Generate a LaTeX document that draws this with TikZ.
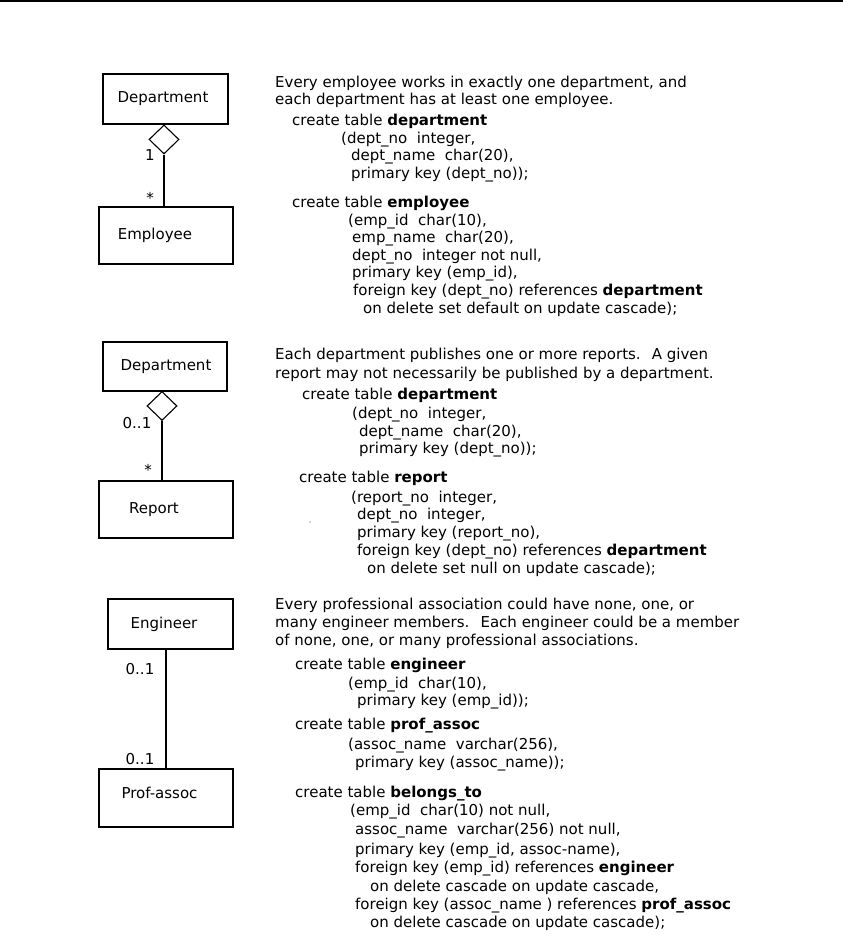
\documentclass[tikz,border=0pt]{standalone}
\usepackage{fontspec}
\setmainfont{DejaVu Sans}
\usetikzlibrary{shapes.geometric}
\tikzset{
  txt/.style={anchor=mid west, inner sep=0pt, font=\fontsize{15}{17}\selectfont},
  lbl/.style={inner sep=0pt, font=\fontsize{15}{17}\selectfont},
  ent/.style={draw, line width=1.2pt, inner sep=0pt},
  agg/.style={draw, diamond, line width=1.1pt, inner sep=0pt, minimum width=30pt, minimum height=29pt, anchor=north},
  conn/.style={line width=1.1pt}
}
\newcommand\tline[4]{\node[txt] (#1) at (#2,#3) {#4};}
\begin{document}
\begin{tikzpicture}[x=1pt,y=-1pt]
\useasboundingbox (0,0) rectangle (843,938);
\coordinate (tl) at (0,1);
\coordinate (tr) at (843,1);
\draw[line width=2pt] (tl) -- (tr);

% ---------- diagram 1 ----------
\node[ent, minimum width=125pt, minimum height=50pt] (dept1) at (165.5,99) {};
\node[lbl] (dept1t) at (163,98.5) {Department};
\node[agg] (d1) at (164,124.4) {};
\node[ent, minimum width=134pt, minimum height=57pt] (emp) at (166,235.5) {};
\node[lbl] (empt) at (155,235.5) {Employee};
\draw[conn] (d1.south) -- (d1.south |- emp.north);
\node[lbl] (m1a) at (150,155) {1};
\node[lbl] (m1b) at (150,198) {*};

% ---------- diagram 2 ----------
\node[ent, minimum width=124pt, minimum height=49pt] (dept2) at (165,366.5) {};
\node[lbl] (dept2t) at (166,367) {Department};
\node[agg] (d2) at (162,390.9) {};
\node[ent, minimum width=134pt, minimum height=57pt] (rep) at (166,509.5) {};
\node[lbl] (rept) at (154,510) {Report};
\draw[conn] (d2.south) -- (d2.south |- rep.north);
\node[lbl] (m2a) at (137,423) {0..1};
\node[lbl] (m2b) at (148,470) {*};

% ---------- diagram 3 ----------
\node[ent, minimum width=125pt, minimum height=50pt] (eng) at (170.5,624) {};
\node[lbl] (engt) at (164,624) {Engineer};
\node[ent, minimum width=134pt, minimum height=58pt] (pa) at (166,798) {};
\node[lbl] (pat) at (159.5,793) {Prof-assoc};
\draw[conn] (pa.north |- eng.south) -- (pa.north);
\node[lbl] (m3a) at (140,669) {0..1};
\node[lbl] (m3b) at (140,759) {0..1};

% ---------- text block 1 ----------
\tline{a1}{275}{85}{Every employee works in exactly one department, and}
\tline{a2}{275}{102}{each department has at least one employee.}
\tline{a3}{292}{123}{create table \textbf{department}}
\tline{a4}{341}{141}{(dept\_no~ integer,}
\tline{a5}{351}{158}{dept\_name~ char(20),}
\tline{a6}{351}{176}{primary key (dept\_no));}
\tline{a7}{292}{205}{create table \textbf{employee}}
\tline{a8}{348}{223}{(emp\_id~ char(10),}
\tline{a9}{352}{240}{emp\_name~ char(20),}
\tline{a10}{352}{258}{dept\_no~ integer not null,}
\tline{a11}{352}{275}{primary key (emp\_id),}
\tline{a12}{353}{293}{foreign key (dept\_no) references \textbf{department}}
\tline{a13}{363}{311}{on delete set default on update cascade);}

% ---------- text block 2 ----------
\tline{b1}{275}{357}{Each department publishes one or more reports.~ A given}
\tline{b2}{275}{376}{report may not necessarily be published by a department.}
\tline{b3}{302}{397}{create table \textbf{department}}
\tline{b4}{352}{416}{(dept\_no~ integer,}
\tline{b5}{359}{434}{dept\_name~ char(20),}
\tline{b6}{359}{451}{primary key (dept\_no));}
\tline{b7}{299}{480}{create table \textbf{report}}
\tline{b8}{351}{500}{(report\_no~ integer,}
\tline{b9}{357}{517}{dept\_no~ integer,}
\tline{b10}{357}{535}{primary key (report\_no),}
\tline{b11}{357}{553}{foreign key (dept\_no) references \textbf{department}}
\tline{b12}{367}{571}{on delete set null on update cascade);}
\fill[gray!70] (310,522) circle (0.8pt);

% ---------- text block 3 ----------
\tline{c1}{275}{607}{Every professional association could have none, one, or}
\tline{c2}{275}{625}{many engineer members.~ Each engineer could be a member}
\tline{c3}{275}{643}{of none, one, or many professional associations.}
\tline{c4}{295}{667}{create table \textbf{engineer}}
\tline{c5}{348}{686}{(emp\_id~ char(10),}
\tline{c6}{357}{703}{primary key (emp\_id));}
\tline{c7}{295}{727}{create table \textbf{prof\_assoc}}
\tline{c8}{348}{747}{(assoc\_name~ varchar(256),}
\tline{c9}{355}{765}{primary key (assoc\_name));}
\tline{c10}{295}{795}{create table \textbf{belongs\_to}}
\tline{c11}{350}{813}{(emp\_id~ char(10) not null,}
\tline{c12}{355}{832}{assoc\_name~ varchar(256) not null,}
\tline{c13}{355}{852}{primary key (emp\_id, assoc-name),}
\tline{c14}{355}{870}{foreign key (emp\_id) references \textbf{engineer}}
\tline{c15}{370}{889}{on delete cascade on update cascade,}
\tline{c16}{355}{907}{foreign key (assoc\_name ) references \textbf{prof\_assoc}}
\tline{c17}{370}{925}{on delete cascade on update cascade);}
\end{tikzpicture}
\end{document}
